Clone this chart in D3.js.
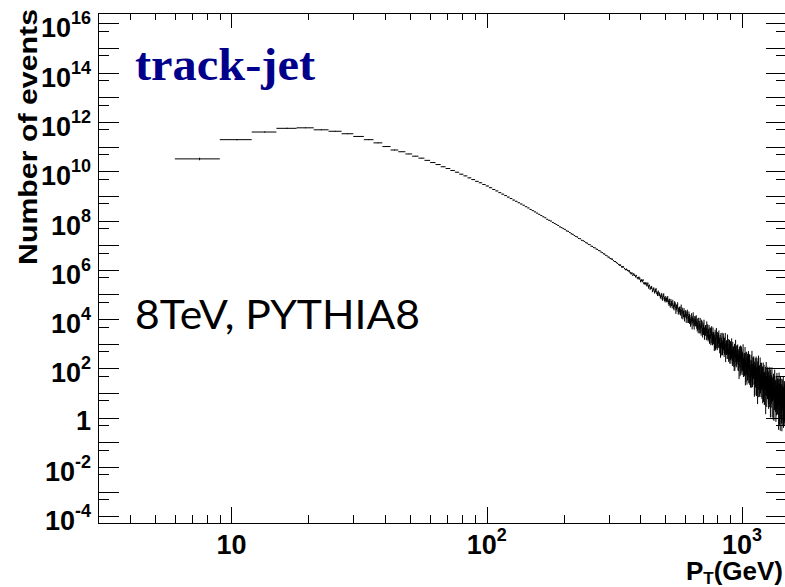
<!DOCTYPE html>
<html><head><meta charset="utf-8">
<script src="https://cdn.jsdelivr.net/npm/d3@7/dist/d3.min.js"></script>
<style>html,body{margin:0;padding:0;background:#fff}svg{display:block}</style>
</head><body>
<svg id="chart" width="785" height="587"></svg>
<script>
// ---------------- data ----------------
const firstBinLow = 6;      // GeV, lower edge of first filled bin
const binWidth = 3;         // GeV
// log10(Number of events) per 3 GeV bin
const log10Counts = [
10.50,11.28,11.59,11.74,11.76,11.68,11.62,11.52,11.41,11.28,
11.15,11.00,10.86,10.79,10.70,10.61,10.53,10.44,10.35,10.27,
10.18,10.11,10.03,9.96,9.88,9.81,9.73,9.66,9.59,9.53,
9.46,9.40,9.33,9.26,9.20,9.13,9.07,9.01,8.95,8.89,
8.83,8.78,8.72,8.67,8.62,8.56,8.51,8.45,8.40,8.35,
8.30,8.25,8.20,8.15,8.11,8.05,8.01,7.98,7.92,7.88,
7.84,7.80,7.74,7.71,7.67,7.64,7.58,7.56,7.51,7.46,
7.44,7.39,7.35,7.33,7.27,7.26,7.20,7.18,7.15,7.10,
7.08,7.03,7.02,6.96,6.95,6.90,6.89,6.84,6.83,6.78,
6.77,6.72,6.70,6.65,6.64,6.59,6.57,6.52,
6.51,6.46,6.44,6.43,6.37,6.34,6.33,6.29,6.26,6.21,
6.19,6.19,6.12,6.12,6.12,6.05,6.01,6.02,5.98,5.96,
5.95,5.89,5.85,5.86,5.78,5.83,5.78,5.73,5.76,5.68,
5.66,5.69,5.64,5.55,5.58,5.54,5.58,5.46,5.45,5.45,
5.43,5.37,5.44,5.31,5.36,5.25,5.27,5.29,5.15,5.23,
5.21,5.10,5.16,5.19,5.07,5.02,5.10,5.02,5.01,4.91,
4.92,4.99,4.84,4.91,4.98,4.83,4.77,4.85,4.78,4.82,
4.83,4.71,4.65,4.72,4.56,4.72,4.64,4.57,4.69,4.50,
4.52,4.63,4.57,4.39,4.50,4.45,4.58,4.34,4.36,4.40,
4.38,4.29,4.47,4.23,4.36,4.17,4.23,4.32,4.07,4.24,
4.24,4.06,4.18,4.27,4.07,4.01,4.18,4.04,4.06,3.89,
3.94,4.10,3.85,3.99,4.13,3.90,3.81,3.98,3.88,3.96,
3.99,3.81,3.73,3.86,3.61,3.90,3.78,3.68,3.90,3.61,
3.66,3.84,3.76,3.49,3.68,3.61,3.84,3.47,3.53,3.60,
3.58,3.46,3.74,3.39,3.60,3.33,3.44,3.57,3.22,3.49,
3.49,3.24,3.43,3.56,3.29,3.22,3.47,3.28,3.32,3.08,
3.17,3.40,3.06,3.27,3.48,3.16,3.04,3.28,3.15,3.27,
3.32,3.09,2.99,3.18,2.84,3.24,3.08,2.96,3.27,2.88,
2.96,3.21,3.10,2.75,3.02,2.93,3.24,2.75,2.84,2.94,
2.93,2.77,3.14,2.69,2.98,2.62,2.77,2.96,2.49,2.86,
2.87,2.54,2.80,2.98,2.63,2.54,2.88,2.64,2.69,2.38,
2.51,2.81,2.38,2.66,2.93,2.52,2.38,2.70,2.53,2.70,
2.76,2.47,2.35,2.59,2.17,2.68,2.49,2.34,2.74,2.25,
2.35,2.67,2.54,2.10,2.45,2.34,2.74,2.13,2.24,2.37,
2.36,2.17,2.64,2.08,2.44,2.00,2.19,2.43,1.85,2.31,
2.33,1.93,2.25,2.48,2.05,1.94,2.37,2.07,2.14,1.76,
1.93,2.30,1.77,2.11,2.45,1.96,1.79,2.18,1.98,2.19,
2.27,1.92,1.77,2.07,1.55,2.19,1.95,1.78,2.27,1.67,
1.80,2.19,2.04,1.51,1.93,1.81,2.29,1.55,1.69,1.85,
1.85,1.63,2.19,1.52,1.96,1.44,1.67,1.96,1.26,1.82,
1.84,1.38,1.76,2.02,1.53,1.40,1.90,1.56,1.64,1.21,
1.41,1.82,1.24,1.62,2.00,1.45,1.26,1.70,1.48,1.71,
1.79,1.42,1.26,1.58,1.03,1.71,1.46,1.28,1.81,1.17,
1.31,1.72,1.56,1.01,1.45,1.32,1.82,1.06,1.20,1.37,
1.42,0.84,1.53,1.22,0.97,1.47,1.01,1.66,1.08,1.28,
0.80,1.24,1.13,1.47,0.92,1.04,1.54,1.25,0.82,1.29,
1.35,1.08,1.30,0.81,0.99,1.56,1.14,0.71,1.31,0.85,
0.77,1.46,0.86,1.04,1.30,0.53,1.12,0.75,0.90,1.29,
1.02,0.81,0.64,1.45,0.89,1.01,0.51,1.09,1.25,0.78,
1.04,0.52,0.95,1.25,0.70,0.56,1.13,0.74,0.84,0.35
];
// relative statistical error per bin
const relErrors = [
0.12,0.06,0.06,0.06,0.04,0.04,0.04,0.04,0.04,0.04,
0.04,0.04,0.04,0.02,0.02,0.02,0.02,0.02,0.02,0.02,
0.02,0.02,0.02,0.02,0.02,0.02,0.02,0.02,0.02,0.02,
0.02,0.02,0.02,0.02,0.02,0.02,0.02,0.02,0.02,0.02,
0.02,0.02,0.02,0.02,0.02,0.02,0.02,0.02,0.02,0.02,
0.02,0.02,0.02,0.02,0.02,0.02,0.02,0.02,0.02,0.02,
0.02,0.03,0.03,0.03,0.03,0.03,0.03,0.03,0.03,0.03,
0.03,0.03,0.03,0.03,0.03,0.03,0.03,0.03,0.03,0.03,
0.03,0.03,0.03,0.03,0.03,0.03,0.03,0.03,0.03,0.03,
0.03,0.03,0.03,0.03,0.03,0.03,0.03,0.03,
0.05,0.04,0.04,0.05,0.03,0.04,0.04,0.04,0.04,0.03,
0.07,0.05,0.06,0.07,0.05,0.06,0.06,0.07,0.06,0.05,
0.09,0.07,0.08,0.10,0.07,0.08,0.08,0.09,0.08,0.07,
0.12,0.09,0.10,0.12,0.09,0.11,0.10,0.11,0.10,0.09,
0.15,0.12,0.13,0.16,0.11,0.14,0.12,0.14,0.13,0.11,
0.18,0.14,0.16,0.19,0.14,0.17,0.15,0.18,0.16,0.14,
0.23,0.18,0.20,0.24,0.17,0.21,0.19,0.22,0.20,0.17,
0.28,0.22,0.24,0.29,0.20,0.25,0.23,0.26,0.24,0.20,
0.32,0.25,0.28,0.34,0.24,0.29,0.27,0.31,0.28,0.24,
0.37,0.29,0.32,0.38,0.27,0.34,0.30,0.35,0.32,0.27,
0.33,0.39,0.35,0.30,0.40,0.32,0.35,0.42,0.30,0.37,
0.34,0.38,0.46,0.32,0.40,0.36,0.42,0.38,0.32,0.44,
0.47,0.37,0.41,0.49,0.35,0.43,0.39,0.45,0.41,0.35,
0.53,0.37,0.46,0.42,0.48,0.44,0.37,0.51,0.40,0.44,
0.45,0.52,0.47,0.40,0.54,0.42,0.47,0.56,0.40,0.49,
0.45,0.50,0.60,0.43,0.53,0.48,0.55,0.50,0.43,0.58,
0.61,0.48,0.53,0.64,0.45,0.56,0.50,0.58,0.53,0.45,
0.66,0.47,0.58,0.52,0.61,0.55,0.47,0.63,0.50,0.55,
0.54,0.63,0.57,0.48,0.66,0.51,0.57,0.68,0.48,0.60,
0.53,0.59,0.71,0.50,0.62,0.56,0.65,0.59,0.50,0.68,
0.70,0.55,0.61,0.73,0.52,0.64,0.58,0.67,0.61,0.52,
0.76,0.54,0.66,0.60,0.69,0.63,0.54,0.72,0.57,0.63,
0.62,0.72,0.65,0.55,0.75,0.59,0.65,0.78,0.55,0.68,
0.60,0.67,0.80,0.57,0.70,0.64,0.74,0.67,0.57,0.77,
0.79,0.62,0.69,0.83,0.59,0.72,0.66,0.76,0.69,0.59,
0.85,0.60,0.75,0.67,0.78,0.71,0.60,0.82,0.64,0.71,
0.68,0.79,0.72,0.61,0.83,0.65,0.72,0.86,0.61,0.76,
0.66,0.73,0.88,0.62,0.77,0.69,0.80,0.73,0.62,0.84,
0.85,0.67,0.74,0.89,0.63,0.78,0.70,0.81,0.74,0.63,
0.90,0.64,0.79,0.71,0.83,0.75,0.64,0.86,0.68,0.75,
0.72,0.84,0.76,0.65,0.87,0.68,0.76,0.91,0.65,0.80,
0.69,0.77,0.92,0.65,0.81,0.73,0.85,0.77,0.65,0.89,
0.90,0.70,0.78,0.94,0.66,0.82,0.74,0.86,0.78,0.66,
0.95,0.67,0.83,0.75,0.87,0.79,0.67,0.91,0.71,0.79,
0.76,0.88,0.80,0.68,0.92,0.72,0.80,0.95,0.68,0.84,
0.73,0.81,0.95,0.69,0.85,0.77,0.89,0.81,0.69,0.93,
0.94,0.74,0.82,0.95,0.70,0.86,0.78,0.90,0.82,0.70,
0.95,0.71,0.87,0.79,0.91,0.83,0.71,0.95,0.75,0.83,
0.80,0.92,0.84,0.71,0.95,0.76,0.84,0.95,0.71,0.88,
0.77,0.85,0.95,0.72,0.89,0.81,0.94,0.85,0.72,0.95
];
const xDomain = [3, 1500];
const yDomain = [5.35e-5, 2.62e16];
const xMajorTicks = [10, 100, 1000];
const xMinorTicks = [4,5,6,7,8,9,20,30,40,50,60,70,80,90,200,300,400,500,600,700,800,900];
const xTickLabels = [["10",""],["10","2"],["10","3"]];
const yMajorTicks = [1e-4,1e-3,1e-2,1e-1,1,1e1,1e2,1e3,1e4,1e5,1e6,1e7,1e8,1e9,1e10,1e11,1e12,1e13,1e14,1e15,1e16];
const yMinorTicks = [5e-4,5e-3,5e-2,5e-1,5,5e1,5e2,5e3,5e4,5e5,5e6,5e7,5e8,5e9,5e10,5e11,5e12,5e13,5e14,5e15];
const yLabelTicks = [1e-4,1e-2,1,1e2,1e4,1e6,1e8,1e10,1e12,1e14,1e16];
const yLabelExponents = ["-4","-2","","2","4","6","8","10","12","14","16"];
const xTitle = ["P","T","(GeV)"];
const yTitle = "Number of events";
const tagText = "track-jet";
const infoText = "8TeV, PYTHIA8";

// ---------------- layout ----------------
const L = 98, R = 787, T = 13, B = 523;
const svg = d3.select("#chart");
svg.append("rect").attr("width",785).attr("height",587).attr("fill","#fff");
const xs = d3.scaleLog().domain(xDomain).range([L, R]);
const ys = d3.scaleLog().domain(yDomain).range([B, T]);
const FONT = "'Liberation Sans', Arial, Helvetica, sans-serif";

svg.append("defs").append("clipPath").attr("id","clip")
  .append("rect").attr("x",L).attr("y",T).attr("width",R-L).attr("height",B-T);

// histogram with error bars
const p = d3.path();
log10Counts.forEach((lv, i) => {
  const lo = firstBinLow + i*binWidth, hi = lo + binWidth, c = lo + binWidth/2;
  const v = Math.pow(10, lv), r = relErrors[i];
  const y = ys(v);
  p.moveTo(xs(lo), y); p.lineTo(xs(hi), y);
  p.moveTo(xs(c), ys(v*(1+r))); p.lineTo(xs(c), ys(Math.max(v*(1-r), 1e-6)));
});
svg.append("path").attr("d", p.toString()).attr("clip-path","url(#clip)")
  .attr("fill","none").attr("stroke","#000").attr("stroke-width",1);

// frame
const g = svg.append("g").attr("shape-rendering","crispEdges").attr("stroke","#000").attr("stroke-width",1);
g.append("rect").attr("x",L).attr("y",T).attr("width",R-L).attr("height",B-T).attr("fill","none");
// x ticks bottom & top
xMajorTicks.forEach(t => {
  const x = Math.round(xs(t));
  g.append("line").attr("x1",x).attr("x2",x).attr("y1",B).attr("y2",B-16);
  g.append("line").attr("x1",x).attr("x2",x).attr("y1",T).attr("y2",T+15);
});
xMinorTicks.forEach(t => {
  const x = Math.round(xs(t));
  g.append("line").attr("x1",x).attr("x2",x).attr("y1",B).attr("y2",B-8);
  g.append("line").attr("x1",x).attr("x2",x).attr("y1",T).attr("y2",T+7);
});
// y ticks left & right
yMajorTicks.forEach(t => {
  const y = Math.round(ys(t));
  g.append("line").attr("x1",L).attr("x2",L+21).attr("y1",y).attr("y2",y);
  g.append("line").attr("x1",R).attr("x2",R-21).attr("y1",y).attr("y2",y);
});
yMinorTicks.forEach(t => {
  const y = Math.round(ys(t));
  g.append("line").attr("x1",L).attr("x2",L+11).attr("y1",y).attr("y2",y);
  g.append("line").attr("x1",R).attr("x2",R-11).attr("y1",y).attr("y2",y);
});

// y labels
yLabelTicks.forEach((t, i) => {
  const y = ys(t), e = yLabelExponents[i];
  const tx = svg.append("text").attr("x",91).attr("text-anchor","end")
    .attr("font-family",FONT).attr("font-weight","bold").attr("font-size",27).attr("fill","#000");
  if (e === "") { tx.attr("y", y+12).text("1"); }
  else {
    tx.attr("y", y+14);
    tx.append("tspan").text("10");
    tx.append("tspan").attr("dy",-13).attr("font-size",18).text(e);
  }
});
// x labels
xMajorTicks.forEach((t, i) => {
  const [b, e] = xTickLabels[i];
  const tx = svg.append("text").attr("x", xs(t)).attr("y",554).attr("text-anchor","middle")
    .attr("font-family",FONT).attr("font-weight","bold").attr("font-size",27).attr("fill","#000");
  tx.append("tspan").text(b);
  if (e) tx.append("tspan").attr("dy",-13).attr("font-size",18).text(e);
});
// x title
const xt = svg.append("text").attr("x",783).attr("y",580).attr("text-anchor","end")
  .attr("font-family",FONT).attr("font-weight","bold").attr("font-size",26).attr("fill","#000");
xt.append("tspan").text(xTitle[0]);
xt.append("tspan").attr("dy",4).attr("font-size",17).text(xTitle[1]);
xt.append("tspan").attr("dy",-4).text(xTitle[2]);
// y title
svg.append("text").attr("transform","translate(37,137) rotate(-90)").attr("text-anchor","middle")
  .attr("font-family",FONT).attr("font-weight","bold").attr("font-size",25).attr("fill","#000")
  .attr("textLength",256).attr("lengthAdjust","spacingAndGlyphs").text(yTitle);
// annotations
svg.append("text").attr("x",135).attr("y",80)
  .attr("font-family","'Liberation Serif', 'Times New Roman', serif").attr("font-weight","bold")
  .attr("font-size",46).attr("fill","#00008b")
  .attr("textLength",180).attr("lengthAdjust","spacingAndGlyphs").text(tagText);
svg.append("text").attr("x",135).attr("y",329)
  .attr("font-family","Lato, 'Liberation Sans', sans-serif")
  .attr("font-size",41).attr("fill","#000")
  .attr("textLength",285).attr("lengthAdjust","spacingAndGlyphs").text(infoText);
</script>
</body></html>
